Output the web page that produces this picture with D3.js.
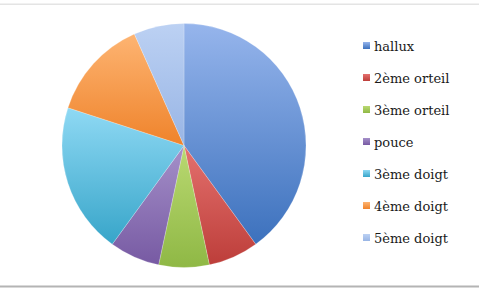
<!DOCTYPE html>
<html><head><meta charset="utf-8">
<script src="https://cdn.jsdelivr.net/npm/d3@7"></script>
<style>html,body{margin:0;padding:0;background:#fff;}svg{display:block;}</style>
</head><body>
<script>
const categories = ["hallux","2ème orteil","3ème orteil","pouce","3ème doigt","4ème doigt","5ème doigt"];
const values = [6,1,1,1,3,2,1];
const colorTop = ["#96b5ec","#e4716e","#bad972","#a590c9","#8fd9f4","#fdb472","#bcd1f3"];
const colorBottom = ["#3c71bd","#bd3e3a","#8fb845","#775aa3","#37a5c9","#ef832b","#98b5e5"];

const W = 479, H = 289;
const svg = d3.select("body").append("svg").attr("width", W).attr("height", H);

svg.append("rect").attr("x",0).attr("y",3.5).attr("width",W).attr("height",1.5).attr("fill","#e4e4e4");
svg.append("rect").attr("x",0).attr("y",285.5).attr("width",W).attr("height",2).attr("fill","#b4b4b4");

const defs = svg.append("defs");
categories.forEach((c,i)=>{
  const g = defs.append("linearGradient").attr("id","g"+i).attr("x1",0).attr("y1",0).attr("x2",0).attr("y2",1);
  g.append("stop").attr("offset","0%").attr("stop-color",colorTop[i]);
  g.append("stop").attr("offset","100%").attr("stop-color",colorBottom[i]);
});

const cx = 184, cy = 145.5, r = 122;
const pie = d3.pie().sort(null).value(d=>d);
const arc = d3.arc().innerRadius(0).outerRadius(r);
const g = svg.append("g").attr("transform",`translate(${cx},${cy})`);
g.selectAll("path").data(pie(values)).join("path")
  .attr("d",arc)
  .attr("fill",(d,i)=>`url(#g${i})`)
  .attr("stroke","rgba(255,255,255,0.35)")
  .attr("stroke-width",0.6);

const leg = svg.append("g");
const y = d3.scalePoint().domain(categories).range([46,238]);
const items = leg.selectAll("g").data(categories).join("g")
  .attr("transform",d=>`translate(363,${y(d)})`);
items.append("rect").attr("x",0).attr("y",-4).attr("width",7).attr("height",7)
  .attr("fill",(d,i)=>`url(#g${i})`);
items.append("text").attr("x",11).attr("y",0).attr("dy","0.35em")
  .style("font-family","DejaVu Serif")
  .style("font-size","13px")
  .attr("fill","#1a1a1a").text(d=>d);
</script>
</body></html>
